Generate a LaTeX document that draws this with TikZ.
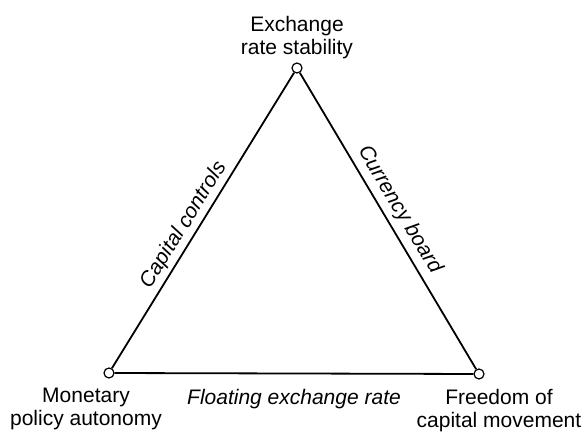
\documentclass[tikz,border=0pt]{standalone}
\usepackage{fontspec}
\setmainfont{Liberation Sans}
\usetikzlibrary{positioning}

\begin{document}
\begin{tikzpicture}[x=1pt, y=1pt,
  every node/.style={font=\fontsize{21}{23.5}\selectfont},
  corner/.style={circle, draw, fill=white, line width=1.2pt, minimum size=10pt, inner sep=0pt},
  side/.style={line width=1.8pt},
  caption/.style={align=center, inner sep=0pt},
  policy/.style={font=\fontsize{21}{23.5}\selectfont\itshape, inner sep=0pt}]
  \useasboundingbox (0,0) rectangle (584,434);
  % corners of the triangle
  \node[corner] (stab) at (297,366) {};
  \node[corner] (auto) at (109,61) {};
  \node[corner] (move) at (479,60) {};
  % goals at the corners
  \node[caption, above=3pt of stab] (stabtext) {Exchange\\rate stability};
  \node[caption, below=9pt of auto, xshift=-23pt] (autotext) {Monetary\\policy autonomy};
  \node[caption, below=9pt of move, xshift=20pt] (movetext) {Freedom of\\capital movement};
  % sides, each with the regime that gives up one goal
  \draw[side] (auto) -- node[policy, sloped, above=3pt, pos=0.46] (ctrl) {Capital controls} (stab);
  \draw[side] (stab) -- node[policy, sloped, above=5pt, pos=0.49] (board) {Currency board} (move);
  \draw[side] (auto) -- node[policy, below=15pt] (float) {Floating exchange rate} (move);
\end{tikzpicture}
\end{document}
